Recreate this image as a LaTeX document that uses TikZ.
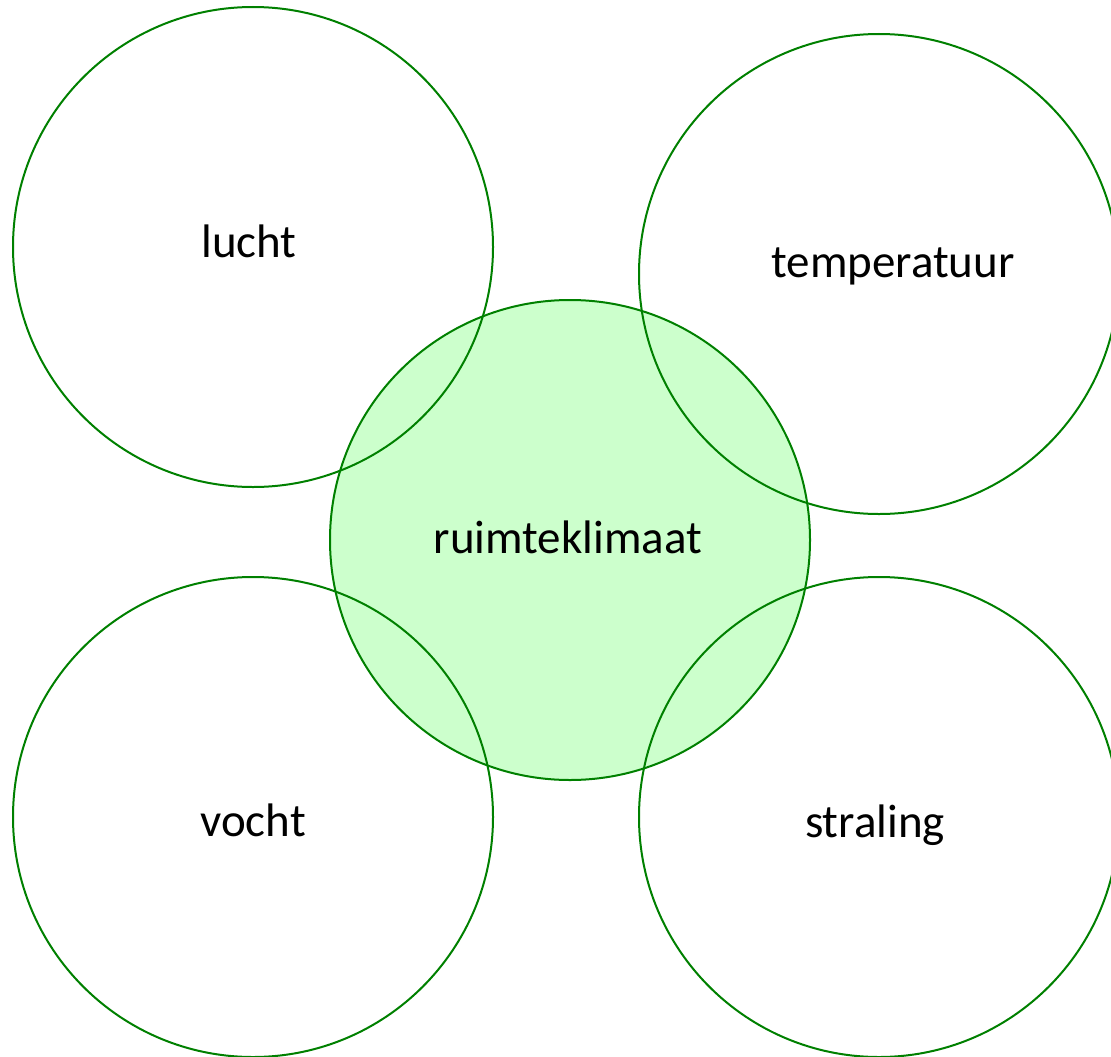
\documentclass[tikz,border=0pt]{standalone}
\usepackage{fontspec}
\setmainfont{Carlito}
\definecolor{ringgreen}{HTML}{008000}
\definecolor{fillgreen}{HTML}{CCFFCC}
\begin{document}
\begin{tikzpicture}[x=1pt,y=-1pt,
  ring/.style={circle,draw=ringgreen,line width=2pt,minimum size=480pt,inner sep=0pt},
  lbl/.style={font=\fontsize{47}{56}\selectfont,anchor=base,inner sep=0pt}]
\useasboundingbox (0,0) rectangle (1111,1057);
\begin{scope}
\clip (0,0) rectangle (1111,1057);
\node[ring,fill=fillgreen] (center) at (570,540) {};
\node[ring] (lucht) at (253,247) {};
\node[ring] (temp) at (879,274) {};
\node[ring] (vocht) at (253,817) {};
\node[ring] (straling) at (879,817) {};
\end{scope}
\node[lbl] (tc) at (568,553) {ruimteklimaat};
\node[lbl] (tl) at (249,257) {lucht};
\node[lbl] (tt) at (893,277) {temperatuur};
\node[lbl] (tv) at (253,836) {vocht};
\node[lbl] (ts) at (875,837) {straling};
\end{tikzpicture}
\end{document}
